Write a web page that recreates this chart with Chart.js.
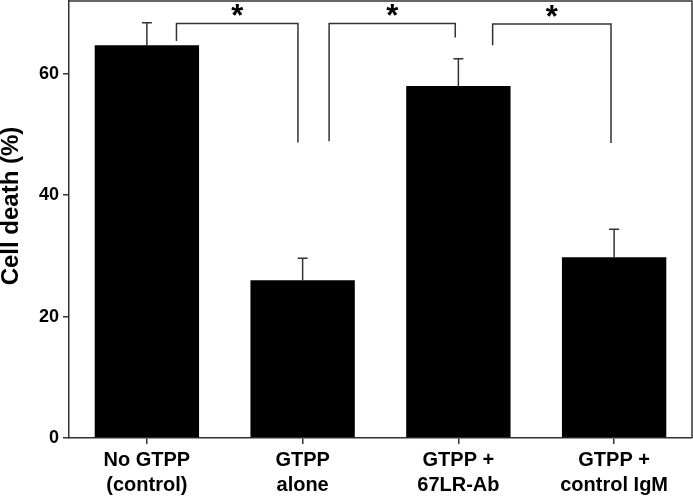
<!DOCTYPE html>
<html>
<head>
<meta charset="utf-8">
<script src="https://cdn.jsdelivr.net/npm/chart.js@4"></script>
<style>
  html, body { margin: 0; padding: 0; background: #fff; }
  #wrap { width: 693px; height: 499px; }
</style>
</head>
<body>
<div id="wrap"><canvas id="chartDeath"></canvas></div>
<script>
// dados
const categorias = [['No GTPP', '(control)'], ['GTPP', 'alone'], ['GTPP +', '67LR-Ab'], ['GTPP +', 'control IgM']];
const valores = [64.7, 26.0, 58.0, 29.8];
const erros = [3.7, 3.6, 4.5, 4.6];
const yTicks = [0, 20, 40, 60];

// colchetes de significância: categorias, altura da barra e fim das pernas
const colchetes = [
    { de: 0, ate: 1, offDe: 0.19, offAte: -0.03, topo: 68.3, fimDe: 65.4, fimAte: 48.7 },
    { de: 1, ate: 2, offDe: 0.17, offAte: -0.02, topo: 68.3, fimDe: 48.9, fimAte: 66.0 },
    { de: 2, ate: 3, offDe: 0.22, offAte: -0.02, topo: 68.2, fimDe: 64.7, fimAte: 48.6 }
];

const corLinha = '#333';

new Chart(document.getElementById('chartDeath'), {
    type: 'bar',
    data: {
        labels: categorias,
        datasets: [{
            data: valores,
            backgroundColor: '#000',
            barPercentage: 0.67,
            categoryPercentage: 1
        }]
    },
    options: {
        responsive: true,
        maintainAspectRatio: false,
        animation: false,
        layout: { padding: { top: 1, right: 1, left: 0, bottom: 0 } },
        plugins: {
            legend: { display: false },
            tooltip: { enabled: false }
        },
        scales: {
            x: {
                offset: true,
                grid: { display: true, drawOnChartArea: false, offset: false, tickLength: 6, color: corLinha, lineWidth: 1.5 },
                border: { display: true, color: corLinha, width: 1.5 },
                ticks: {
                    color: '#000',
                    font: { family: 'Liberation Sans', size: 20, weight: 'bold', lineHeight: 1.25 },
                    padding: 4,
                    maxRotation: 0
                },
                afterFit(scale) {
                    scale.height = 61;
                    scale.paddingLeft = 0;
                    scale.paddingRight = 0;
                }
            },
            y: {
                min: 0,
                max: 72,
                grid: { display: true, drawOnChartArea: false, tickLength: 6, color: corLinha, lineWidth: 1.5 },
                border: { display: true, color: corLinha, width: 1.5 },
                ticks: {
                    color: '#000',
                    font: { family: 'Liberation Sans', size: 18, weight: 'bold' },
                    padding: 4
                },
                afterBuildTicks(scale) { scale.ticks = yTicks.map(v => ({ value: v })); },
                afterFit(scale) {
                    scale.width = 69;
                    scale.paddingTop = 0;
                    scale.paddingBottom = 0;
                }
            }
        }
    },
    plugins: [{
        id: 'extras',
        afterDatasetsDraw(chart) {
            const { ctx, chartArea: area, scales: { x, y } } = chart;
            ctx.save();

            // moldura (topo e direita)
            ctx.strokeStyle = corLinha;
            ctx.lineWidth = 1.5;
            ctx.beginPath();
            ctx.moveTo(area.left, area.top);
            ctx.lineTo(area.right, area.top);
            ctx.lineTo(area.right, area.bottom);
            ctx.stroke();

            // barras de erro (só para cima)
            valores.forEach((v, i) => {
                const cx = x.getPixelForValue(i);
                const yTop = y.getPixelForValue(v + erros[i]);
                const yBar = y.getPixelForValue(v);
                ctx.beginPath();
                ctx.moveTo(cx, yBar);
                ctx.lineTo(cx, yTop);
                ctx.moveTo(cx - 5, yTop);
                ctx.lineTo(cx + 5, yTop);
                ctx.stroke();
            });

            // colchetes + asteriscos
            const passo = x.getPixelForValue(1) - x.getPixelForValue(0);
            colchetes.forEach(c => {
                const x1 = x.getPixelForValue(c.de) + c.offDe * passo;
                const x2 = x.getPixelForValue(c.ate) + c.offAte * passo;
                const yt = y.getPixelForValue(c.topo);
                ctx.beginPath();
                ctx.moveTo(x1, y.getPixelForValue(c.fimDe));
                ctx.lineTo(x1, yt);
                ctx.lineTo(x2, yt);
                ctx.lineTo(x2, y.getPixelForValue(c.fimAte));
                ctx.stroke();

                ctx.fillStyle = '#000';
                ctx.font = 'bold 31px "Liberation Sans"';
                ctx.textAlign = 'center';
                ctx.textBaseline = 'alphabetic';
                ctx.fillText('*', (x1 + x2) / 2, yt + 3);
            });

            // título do eixo y
            ctx.translate(11, 206);
            ctx.rotate(-Math.PI / 2);
            ctx.fillStyle = '#000';
            ctx.font = 'bold 24px "Liberation Sans"';
            ctx.textAlign = 'center';
            ctx.textBaseline = 'middle';
            ctx.fillText('Cell death (%)', 0, 0);
            ctx.restore();
        }
    }]
});
</script>
</body>
</html>
